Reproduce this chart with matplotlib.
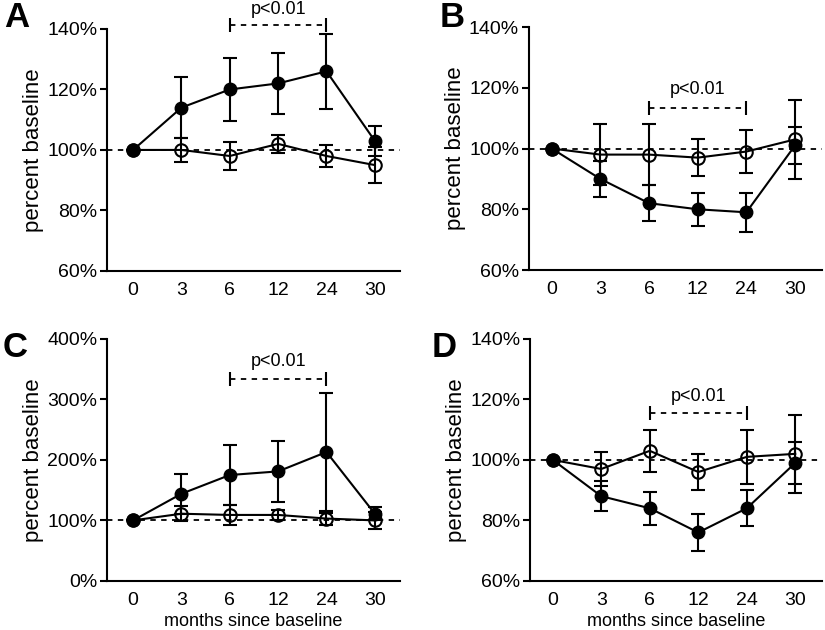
import matplotlib
matplotlib.use("Agg")
import matplotlib.pyplot as plt

plt.rcParams['font.family'] = ['Liberation Sans', 'DejaVu Sans']

months = ["0", "3", "6", "12", "24", "30"]

# panel A
a_filled = [100, 114, 120, 122, 126, 103]
a_filled_err = [0, 10, 10.5, 10, 12.5, 5]
a_open = [100, 100, 98, 102, 98, 95]
a_open_err = [0, 4, 4.5, 3, 3.5, 6]

# panel B
b_filled = [100, 90, 82, 80, 79, 101]
b_filled_err = [0, 6, 6, 5.5, 6.5, 6]
b_open = [100, 98, 98, 97, 99, 103]
b_open_err = [0, 10, 10, 6, 7, 13]

# panel C
c_filled = [100, 144, 175, 181, 213, 111]
c_filled_err = [0, 33, 49, 51, 98, 11]
c_open = [100, 111, 109, 109, 103, 100]
c_open_err = [0, 12, 17, 8, 10, 14]

# panel D
d_filled = [100, 88, 84, 76, 84, 99]
d_filled_err = [0, 5, 5.5, 6, 6, 7]
d_open = [100, 97, 103, 96, 101, 102]
d_open_err = [0, 5.5, 7, 6, 9, 13]

panels = [
    ("A", a_filled, a_filled_err, a_open, a_open_err, (60, 140), [60, 80, 100, 120, 140], 141.3, 146.5,
     [0.1297, 0.570, 0.3551, 0.384], (-0.54, 5.52)),
    ("B", b_filled, b_filled_err, b_open, b_open_err, (60, 140), [60, 80, 100, 120, 140], 113.5, 119.5,
     [0.641, 0.5714, 0.3551, 0.3857], (-0.47, 5.55)),
    ("C", c_filled, c_filled_err, c_open, c_open_err, (0, 400), [0, 100, 200, 300, 400], 334, 362,
     [0.1297, 0.078, 0.3551, 0.384], (-0.54, 5.52)),
    ("D", d_filled, d_filled_err, d_open, d_open_err, (60, 140), [60, 80, 100, 120, 140], 115.5, 121,
     [0.6424, 0.078, 0.3539, 0.384], (-0.47, 5.55)),
]

fig = plt.figure(figsize=(8.25, 6.3), dpi=100)
x = list(range(len(months)))

for letter, yf, ef, yo, eo, ylim, yticks, br_y, txt_y, pos, xlim in panels:
    ax = fig.add_axes(pos)
    ax.axhline(100, color='black', ls=(0, (3, 3)), lw=1.3, zorder=1)
    ax.errorbar(x, yo, yerr=eo, color='black', lw=1.5, elinewidth=1.5, capsize=5, capthick=1.5,
                marker='o', ms=9, mfc='none', mec='black', mew=1.5, zorder=2)
    ax.errorbar(x, yf, yerr=ef, color='black', lw=1.5, elinewidth=1.5, capsize=5, capthick=1.5,
                marker='o', ms=9, mfc='black', mec='black', zorder=3)
    # significance bracket
    ax.plot([2, 4], [br_y, br_y], color='black', ls=(0, (3, 3)), lw=1.3, clip_on=False)
    ax.plot([2, 4], [br_y, br_y], color='black', ls='none', marker='|', ms=10, mew=1.5, clip_on=False)
    ax.text(3, txt_y, "p<0.01", ha='center', va='center', fontsize=13, clip_on=False)

    ax.set_xlim(*xlim)
    ax.set_ylim(*ylim)
    ax.set_xticks(x)
    ax.set_xticklabels(months)
    ax.set_yticks(yticks)
    ax.set_yticklabels([f"{t}%" for t in yticks])
    ax.tick_params(axis='x', length=0, pad=8, labelsize=14)
    ax.tick_params(axis='y', length=5, width=1.5, labelsize=14, pad=2)
    for s in ['top', 'right']:
        ax.spines[s].set_visible(False)
    for s in ['left', 'bottom']:
        ax.spines[s].set_linewidth(1.5)
    ax.set_ylabel("percent baseline", fontsize=16, labelpad=2)
    if letter in ("C", "D"):
        ax.set_xlabel("months since baseline", fontsize=13, labelpad=3)

fig.text(0.020, 0.972, "A", fontsize=25, fontweight='bold', ha='center', va='center')
fig.text(0.548, 0.972, "B", fontsize=25, fontweight='bold', ha='center', va='center')
fig.text(0.018, 0.449, "C", fontsize=25, fontweight='bold', ha='center', va='center')
fig.text(0.539, 0.449, "D", fontsize=25, fontweight='bold', ha='center', va='center')

fig.savefig("out.png", dpi=100)
